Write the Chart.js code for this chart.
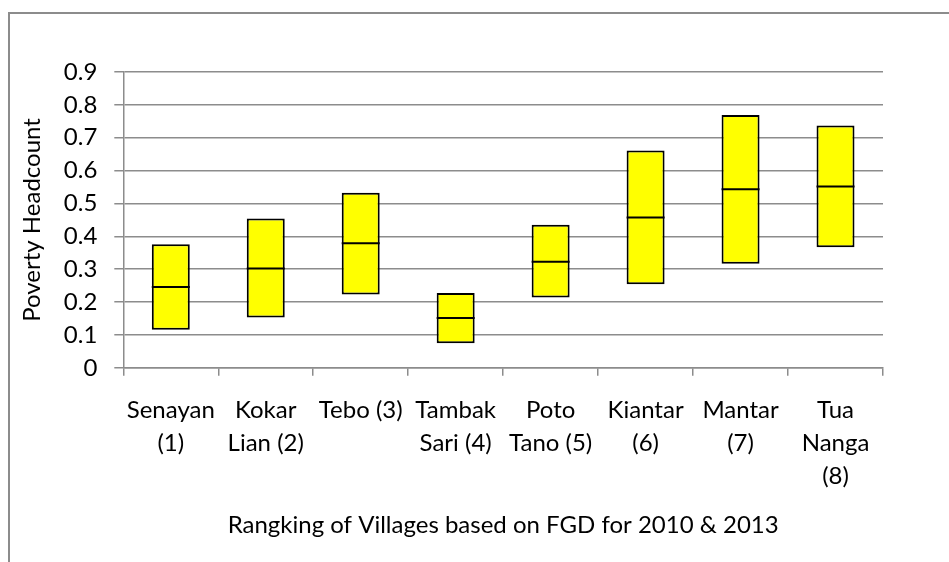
<!DOCTYPE html>
<html>
<head>
<meta charset="utf-8">
<script src="https://cdn.jsdelivr.net/npm/chart.js@4/dist/chart.umd.min.js"></script>
<style>
  html, body { margin: 0; padding: 0; background: #fff; overflow: hidden; }
  #frame { position: absolute; left: 8px; top: 12px; width: 2000px; height: 2000px;
           border-left: 2px solid #8c8c8c; border-top: 2px solid #8c8c8c; }
  #wrap { position: absolute; left: 0; top: 0; width: 949px; height: 562px; }
</style>
</head>
<body>
<div id="frame"></div>
<div id="wrap"><canvas id="boxChart" width="949" height="562"></canvas></div>
<script>
// villages, ranked by FGD
var villages = [
    ['Senayan', '(1)'],
    ['Kokar', 'Lian (2)'],
    ['Tebo (3)'],
    ['Tambak', 'Sari (4)'],
    ['Poto', 'Tano (5)'],
    ['Kiantar', '(6)'],
    ['Mantar', '(7)'],
    ['Tua', 'Nanga', '(8)']
];
// poverty headcount: bottom, middle line, top of each box
var lowValues  = [0.116, 0.153, 0.223, 0.075, 0.214, 0.254, 0.317, 0.367];
var midValues  = [0.246, 0.302, 0.379, 0.152, 0.323, 0.457, 0.543, 0.552];
var highValues = [0.376, 0.454, 0.533, 0.228, 0.435, 0.661, 0.769, 0.737];
var yTicks = [0, 0.1, 0.2, 0.3, 0.4, 0.5, 0.6, 0.7, 0.8, 0.9];

var boxes = lowValues.map(function (v, i) { return [v, highValues[i]]; });

var font = { family: 'Lato, "Open Sans", sans-serif', size: 24, lineHeight: 1.38 };
var titleFont = { family: 'Lato, "Open Sans", sans-serif', size: 24 };
var gridColor = '#8c8c8c';

var ctx = document.getElementById('boxChart').getContext('2d');
var myChart = new Chart(ctx, {
    type: 'bar',
    data: {
        labels: villages,
        datasets: [{
            type: 'line',
            label: 'middle',
            data: midValues,
            showLine: false,
            pointStyle: 'line',
            pointRadius: 19,
            pointHoverRadius: 19,
            borderColor: '#000000',
            borderWidth: 2
        }, {
            label: 'range',
            data: boxes,
            backgroundColor: '#ffff00',
            borderColor: '#000000',
            borderWidth: 2,
            borderSkipped: false,
            categoryPercentage: 1,
            barPercentage: 0.4
        }]
    },
    options: {
        responsive: false,
        animation: false,
        layout: { padding: { left: 18, right: 66, top: 72, bottom: 22 } },
        plugins: {
            legend: { display: false },
            tooltip: { enabled: false }
        },
        scales: {
            x: {
                grid: { display: true, drawOnChartArea: false, drawTicks: true, tickLength: 8,
                        color: gridColor, lineWidth: 1.5 },
                border: { display: true, color: gridColor, width: 1.5 },
                ticks: { color: '#000', font: font, padding: 18, maxRotation: 0, autoSkip: false },
                title: {
                    display: true,
                    text: 'Rangking of Villages based on FGD for 2010 & 2013',
                    color: '#000', font: titleFont, padding: { top: 0, bottom: 0 }
                }
            },
            y: {
                min: 0,
                max: 0.9,
                afterBuildTicks: function (axis) {
                    axis.ticks = yTicks.map(function (v) { return { value: v }; });
                },
                grid: { color: gridColor, lineWidth: 1.5, tickLength: 9 },
                border: { display: true, color: gridColor, width: 1.5 },
                ticks: {
                    color: '#000', font: titleFont, padding: 17, autoSkip: false,
                    callback: function (v) { return String(+v.toFixed(1)); }
                },
                title: {
                    display: true,
                    text: 'Poverty Headcount',
                    color: '#000', font: titleFont, padding: { top: 0, bottom: 0 }
                }
            }
        }
    }
});
</script>
</body>
</html>
